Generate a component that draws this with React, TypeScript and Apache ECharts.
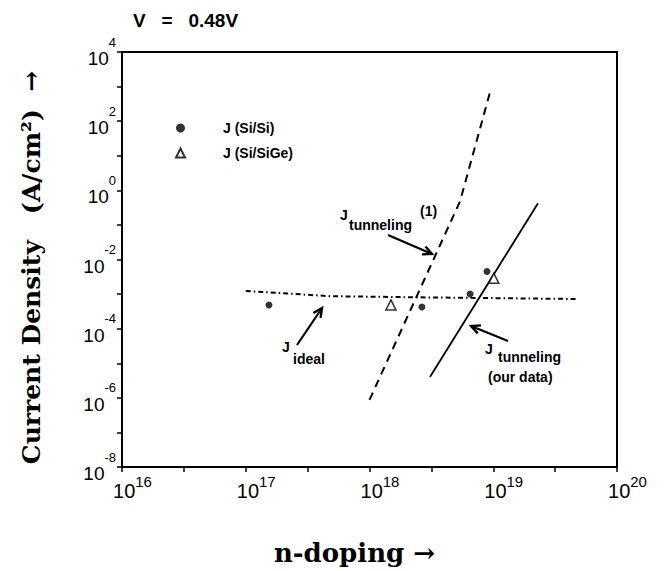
import React, { useEffect, useRef } from "react";
import * as echarts from "echarts";

// ---- Data (raw values) ----
// Measured points
const siSiDoping = [1.54e17, 2.65e18, 6.5e18, 8.9e18];
const siSiJ = [4.85e-4, 4.25e-4, 1.0e-3, 4.5e-3];
const siSiGeDoping = [1.49e18, 1.01e19];
const siSiGeJ = [4.85e-4, 2.87e-3];
// Curves
const idealDoping = [1.0e17, 4.8e17, 2.2e18, 4.8e19];
const idealJ = [1.23e-3, 8.7e-4, 8.1e-4, 7.2e-4];
const tunnel1Doping = [1.0e18, 5.4e18, 9.5e18];
const tunnel1J = [8.7e-7, 0.49, 770];
const ourDoping = [3.08e18, 2.3e19];
const ourJ = [4.0e-6, 0.425];
// Axis ranges (powers of ten)
const xExpRange = [16, 20];
const yExpRange = [-8, 4];

const FONT = '"Liberation Sans", Arial, sans-serif';
const SERIF = '"DejaVu Serif", serif';

const pts = (xs: number[], ys: number[]) =>
  xs.map((x, i) => [Math.log10(x), Math.log10(ys[i])]);

function arrow(x1: number, y1: number, x2: number, y2: number, len = 10, ang = 0.45) {
  const a = Math.atan2(y2 - y1, x2 - x1);
  const p1 = [x2 - len * Math.cos(a - ang), y2 - len * Math.sin(a - ang)];
  const p2 = [x2 - len * Math.cos(a + ang), y2 - len * Math.sin(a + ang)];
  return [
    { type: "line", shape: { x1, y1, x2, y2 }, style: { stroke: "#000", lineWidth: 2.2 } },
    { type: "polyline", shape: { points: [p1, [x2, y2], p2] }, style: { stroke: "#000", lineWidth: 2.4, fill: null } },
  ];
}

function txt(text: string, x: number, y: number, size = 14, align = "left") {
  return {
    type: "text",
    x,
    y,
    style: {
      text,
      fill: "#000",
      font: `bold ${size}px ${FONT}`,
      align,
      verticalAlign: "middle",
    },
  };
}

export default function App() {
  const ref = useRef<HTMLDivElement>(null);
  useEffect(() => {
    const chart = echarts.init(ref.current!, null, { renderer: "svg" });
    const option = {
      animation: false,
      backgroundColor: "#fff",
      grid: {
        left: 122,
        top: 52,
        right: 50,
        bottom: 99,
        show: true,
        borderColor: "#000",
        borderWidth: 2,
      },
      legend: {
        data: [
          { name: "J (Si/Si)", icon: "circle" },
          { name: "J (Si/SiGe)", icon: "triangle" },
        ],
        orient: "vertical",
        left: 170,
        top: 116,
        itemWidth: 9,
        itemHeight: 9,
        itemGap: 11,
        selectedMode: false,
        textStyle: {
          fontFamily: FONT,
          fontSize: 14,
          fontWeight: "bold",
          color: "#000",
          padding: [0, 0, 0, 33],
        },
      },
      xAxis: {
        type: "value",
        position: "bottom",
        min: xExpRange[0],
        max: xExpRange[1],
        interval: 0.5,
        splitLine: { show: false },
        axisLine: { onZero: false, lineStyle: { color: "#000", width: 2 } },
        axisTick: { inside: false, length: 5, lineStyle: { color: "#000", width: 1.5 } },
        axisLabel: {
          margin: 10,
          padding: [0, 0, 0, 21],
          formatter: (v: number) => (Number.isInteger(v) ? `{b|10}{s|${v}}` : ""),
          rich: {
            b: { fontFamily: FONT, fontSize: 20, color: "#000", lineHeight: 20, padding: [7, 0, 0, 0] },
            s: { fontFamily: FONT, fontSize: 15, color: "#000", lineHeight: 15, padding: [0, 0, 12, 0] },
          },
        },
        name: "n-doping →",
        nameLocation: "middle",
        nameGap: 73,
        nameTextStyle: {
          fontFamily: SERIF,
          fontSize: 26,
          fontWeight: "bold",
          color: "#000",
          padding: [0, 30, 0, 0],
        },
      },
      yAxis: {
        type: "value",
        position: "left",
        min: yExpRange[0],
        max: yExpRange[1],
        interval: 1,
        splitLine: { show: false },
        axisLine: { onZero: false, lineStyle: { color: "#000", width: 2 } },
        axisTick: { inside: false, length: 5, lineStyle: { color: "#000", width: 1.5 } },
        axisLabel: {
          margin: 6,
          formatter: (v: number) => (v % 2 === 0 ? `{b|10}{s|${v}}` : ""),
          rich: {
            b: { fontFamily: FONT, fontSize: 19, color: "#000", lineHeight: 20, padding: [13, 0, 0, 0] },
            s: { fontFamily: FONT, fontSize: 13, color: "#000", lineHeight: 13, padding: [0, 0, 20, 0] },
          },
        },
        name: "Current Density   (A/cm²)  →",
        nameLocation: "middle",
        nameGap: 78,
        nameTextStyle: {
          fontFamily: SERIF,
          fontSize: 25,
          fontWeight: "bold",
          color: "#000",
          padding: [0, 16, 0, 0],
        },
      },
      series: [
        {
          name: "J ideal",
          type: "line",
          data: pts(idealDoping, idealJ),
          symbol: "none",
          lineStyle: { color: "#000", width: 2, type: [5, 3, 1.5, 3] },
          z: 2,
        },
        {
          name: "J tunneling (1)",
          type: "line",
          data: pts(tunnel1Doping, tunnel1J),
          symbol: "none",
          lineStyle: { color: "#000", width: 2, type: [8, 6] },
          z: 2,
        },
        {
          name: "J tunneling (our data)",
          type: "line",
          data: pts(ourDoping, ourJ),
          symbol: "none",
          lineStyle: { color: "#000", width: 1.8 },
          z: 2,
        },
        {
          name: "J (Si/Si)",
          type: "scatter",
          data: pts(siSiDoping, siSiJ),
          symbol: "circle",
          symbolSize: 7,
          itemStyle: { color: "#000" },
          z: 3,
        },
        {
          name: "J (Si/SiGe)",
          type: "scatter",
          data: pts(siSiGeDoping, siSiGeJ),
          symbol: "triangle",
          symbolSize: 10,
          itemStyle: { color: "#fff", borderColor: "#000", borderWidth: 1.6 },
          z: 3,
        },
      ],
      graphic: [
        txt("V   =   0.48V", 133, 20, 19, "left"),
        // J ideal
        txt("J", 282, 347),
        txt("ideal", 293, 359),
        ...arrow(297, 345, 322, 308),
        // J tunneling (1)
        txt("J", 340, 215),
        txt("tunneling", 349, 225),
        txt("(1)", 420, 211),
        ...arrow(388, 235, 432, 254),
        // J tunneling (our data)
        txt("J", 485, 349),
        txt("tunneling", 498, 357),
        txt("(our data)", 488, 377),
        ...arrow(508, 341, 471, 326),
      ],
    };
    chart.setOption(option as any);
    return () => chart.dispose();
  }, []);
  return (
    <div
      ref={ref}
      style={{ position: "fixed", left: 0, top: 0, width: 667, height: 571 }}
    />
  );
}
